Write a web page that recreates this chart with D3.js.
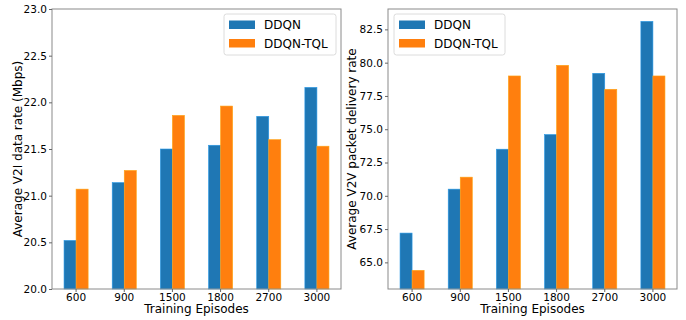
<!DOCTYPE html>
<html>
<head>
<meta charset="utf-8">
<script src="https://cdn.jsdelivr.net/npm/d3@7"></script>
<style>
  body { margin: 0; background: #fff; }
  text { font-family: "DejaVu Sans", sans-serif; fill: #000; }
</style>
</head>
<body>
<div id="chart"></div>
<script>
const episodes = ["600", "900", "1500", "1800", "2700", "3000"];
const seriesNames = ["DDQN", "DDQN-TQL"];
const colors = ["#1f77b4", "#ff7f0e"];

// left panel: V2I data rate
const v2iDDQN = [20.52, 21.14, 21.50, 21.54, 21.85, 22.16];
const v2iTQL  = [21.07, 21.27, 21.86, 21.96, 21.60, 21.53];
const v2iTicks = [20.0, 20.5, 21.0, 21.5, 22.0, 22.5, 23.0];

// right panel: V2V packet delivery rate
const v2vDDQN = [67.2, 70.5, 73.5, 74.6, 79.2, 83.1];
const v2vTQL  = [64.4, 71.4, 79.0, 79.8, 78.0, 79.0];
const v2vTicks = [65.0, 67.5, 70.0, 72.5, 75.0, 77.5, 80.0, 82.5];

const width = 686, height = 320;
const svg = d3.select("#chart").append("svg")
  .attr("width", width)
  .attr("height", height);

function panel(opts) {
  const top = 9, bottom = 289;
  const x = d3.scaleBand().domain(episodes).range([opts.left, opts.right]).padding(0);
  const y = d3.scaleLinear().domain(opts.domain).range([bottom, top]);
  const bw = x.bandwidth() * 0.25;
  const g = svg.append("g");

  const series = [opts.a, opts.b];
  series.forEach((vals, s) => {
    g.selectAll(null)
      .data(vals)
      .enter()
      .append("rect")
      .attr("x", (d, i) => x(episodes[i]) + x.bandwidth() / 2 - bw + s * bw)
      .attr("y", d => y(d))
      .attr("width", bw)
      .attr("height", d => bottom - y(d))
      .attr("fill", colors[s])
      .attr("stroke", d3.color(colors[s]).brighter(0.7))
      .attr("stroke-width", 0.6);
  });

  // frame
  g.append("rect")
    .attr("x", opts.left).attr("y", top)
    .attr("width", opts.right - opts.left).attr("height", bottom - top)
    .attr("fill", "none").attr("stroke", "#8a8a8a").attr("stroke-width", 1);

  const yAxis = g.append("g")
    .attr("transform", `translate(${opts.left},0)`)
    .call(d3.axisLeft(y).tickValues(opts.ticks).tickFormat(d3.format(".1f")).tickSize(3).tickPadding(2));
  const xAxis = g.append("g")
    .attr("transform", `translate(0,${bottom})`)
    .call(d3.axisBottom(x).tickSize(3).tickPadding(2));
  [xAxis, yAxis].forEach(ax => {
    ax.select(".domain").remove();
    ax.selectAll(".tick line").attr("stroke", "#666");
    ax.selectAll(".tick text").style("font-size", "10.5px").style("font-family", "DejaVu Sans");
  });

  g.append("text")
    .attr("x", (opts.left + opts.right) / 2)
    .attr("y", 313)
    .attr("text-anchor", "middle")
    .style("font-size", "12px")
    .text("Training Episodes");

  g.append("text")
    .attr("transform", `translate(${opts.ylabelX},${(top + bottom) / 2}) rotate(-90)`)
    .attr("text-anchor", "middle")
    .attr("dy", "0.35em")
    .style("font-size", "12px")
    .text(opts.ylabel);

  // legend
  const lg = g.append("g").attr("transform", `translate(${opts.legendX},14)`);
  lg.append("rect")
    .attr("width", opts.legendW).attr("height", 41)
    .attr("rx", 2.5)
    .attr("fill", "#fff").attr("fill-opacity", 0.8)
    .attr("stroke", "#dcdcdc");
  seriesNames.forEach((name, i) => {
    lg.append("rect")
      .attr("x", 5).attr("y", 6.5 + i * 18.5)
      .attr("width", 26).attr("height", 8.5)
      .attr("fill", colors[i]);
    lg.append("text")
      .attr("x", 40).attr("y", 11 + i * 18.5)
      .attr("dy", "0.35em")
      .style("font-size", "12px")
      .text(name);
  });
}

panel({
  left: 52, right: 341, domain: [20, 23], ticks: v2iTicks,
  a: v2iDDQN, b: v2iTQL,
  ylabel: "Average V2I data rate (Mbps)", ylabelX: 18,
  legendX: 224, legendW: 112
});

panel({
  left: 388, right: 677, domain: [63.0, 84.03], ticks: v2vTicks,
  a: v2vDDQN, b: v2vTQL,
  ylabel: "Average V2V packet delivery rate", ylabelX: 352,
  legendX: 394, legendW: 111
});
</script>
</body>
</html>
